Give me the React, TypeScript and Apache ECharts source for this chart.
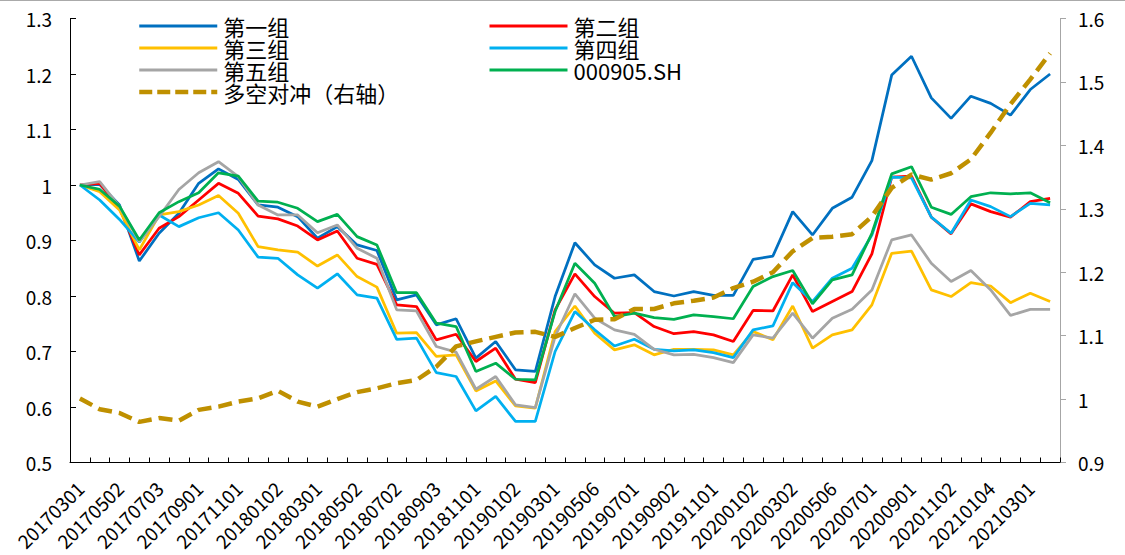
import React, { useEffect, useRef } from "react";
import * as echarts from "echarts";

const dates = [
  "20170301", "20170405", "20170502", "20170601", "20170703", "20170801", "20170901", "20171009", "20171101", "20171201",
  "20180102", "20180201", "20180301", "20180402", "20180502", "20180601", "20180702", "20180801", "20180903", "20181008",
  "20181101", "20181203", "20190102", "20190201", "20190301", "20190401", "20190506", "20190603", "20190701", "20190801",
  "20190902", "20191008", "20191101", "20191202", "20200102", "20200203", "20200302", "20200401", "20200506", "20200601",
  "20200701", "20200803", "20200901", "20201009", "20201102", "20201201", "20210104", "20210201", "20210301", "20210401",
];

const group1 = [
  1.0, 1.001, 0.964, 0.863, 0.913, 0.949, 1.003, 1.029, 1.01, 0.964,
  0.96, 0.943, 0.904, 0.925, 0.892, 0.882, 0.793, 0.802, 0.748, 0.759,
  0.688, 0.718, 0.667, 0.664, 0.799, 0.896, 0.856, 0.832, 0.838, 0.808,
  0.8, 0.808, 0.801, 0.801, 0.866, 0.872, 0.952, 0.91, 0.958, 0.978,
  1.044, 1.198, 1.232, 1.157, 1.12, 1.16, 1.147, 1.126, 1.172, 1.2,
];
const group2 = [
  1.0, 1.003, 0.958, 0.874, 0.922, 0.943, 0.973, 1.003, 0.985, 0.944,
  0.939, 0.926, 0.901, 0.917, 0.868, 0.857, 0.784, 0.781, 0.721, 0.731,
  0.682, 0.706, 0.65, 0.644, 0.775, 0.84, 0.799, 0.769, 0.77, 0.745,
  0.732, 0.736, 0.73, 0.718, 0.774, 0.773, 0.838, 0.772, 0.79, 0.808,
  0.876, 1.014, 1.016, 0.942, 0.912, 0.966, 0.952, 0.942, 0.97, 0.976,
];
const group3 = [
  1.0, 0.988, 0.955, 0.883, 0.946, 0.952, 0.964, 0.981, 0.949, 0.889,
  0.883, 0.879, 0.854, 0.874, 0.835, 0.816, 0.733, 0.734, 0.691, 0.694,
  0.629, 0.647, 0.602, 0.598, 0.736, 0.782, 0.733, 0.703, 0.712, 0.694,
  0.704, 0.704, 0.703, 0.694, 0.736, 0.721, 0.782, 0.706, 0.73, 0.739,
  0.784, 0.877, 0.881, 0.811, 0.799, 0.824, 0.818, 0.788, 0.805, 0.79,
];
const group4 = [
  1.0, 0.973, 0.938, 0.897, 0.946, 0.925, 0.941, 0.95, 0.919, 0.87,
  0.868, 0.838, 0.814, 0.84, 0.802, 0.796, 0.722, 0.724, 0.662, 0.655,
  0.593, 0.619, 0.574, 0.574, 0.7, 0.772, 0.739, 0.71, 0.722, 0.704,
  0.701, 0.703, 0.698, 0.689, 0.739, 0.746, 0.824, 0.79, 0.832, 0.85,
  0.91, 1.014, 1.013, 0.942, 0.913, 0.973, 0.961, 0.943, 0.967, 0.964,
];
const group5 = [
  1.0, 1.006, 0.961, 0.898, 0.943, 0.992, 1.022, 1.042, 1.015, 0.964,
  0.946, 0.946, 0.914, 0.928, 0.886, 0.868, 0.775, 0.773, 0.709, 0.699,
  0.632, 0.655, 0.604, 0.599, 0.727, 0.804, 0.76, 0.739, 0.731, 0.704,
  0.694, 0.695, 0.689, 0.68, 0.73, 0.724, 0.769, 0.724, 0.76, 0.776,
  0.811, 0.901, 0.91, 0.859, 0.826, 0.846, 0.811, 0.765, 0.776, 0.776,
];
const index905 = [
  1.0, 0.992, 0.962, 0.901, 0.95, 0.97, 0.986, 1.022, 1.016, 0.971,
  0.969, 0.958, 0.934, 0.947, 0.907, 0.892, 0.806, 0.806, 0.751, 0.745,
  0.664, 0.679, 0.65, 0.649, 0.772, 0.859, 0.823, 0.763, 0.769, 0.761,
  0.758, 0.766, 0.763, 0.759, 0.817, 0.835, 0.846, 0.786, 0.829, 0.838,
  0.913, 1.02, 1.033, 0.96, 0.947, 0.979, 0.986, 0.984, 0.986, 0.968,
];
const hedge = [
  1.001, 0.984, 0.978, 0.964, 0.97, 0.966, 0.983, 0.988, 0.996, 1.001,
  1.013, 0.996, 0.988, 1.0, 1.011, 1.017, 1.025, 1.03, 1.051, 1.083,
  1.091, 1.098, 1.105, 1.106, 1.098, 1.112, 1.125, 1.126, 1.142, 1.142,
  1.151, 1.155, 1.16, 1.175, 1.185, 1.2, 1.233, 1.254, 1.256, 1.26,
  1.288, 1.333, 1.354, 1.346, 1.356, 1.378, 1.42, 1.465, 1.504, 1.545,
];

const names = ["第一组", "第二组", "第三组", "第四组", "第五组", "000905.SH", "多空对冲（右轴）"];
const colors = ["#0070C0", "#FF0000", "#FFC000", "#00B0F0", "#A5A5A5", "#00B050", "#BF9000"];

const FONT = "'Noto Sans CJK SC', 'DejaVu Sans', sans-serif";

export default function App() {
  const ref = useRef<HTMLDivElement>(null);
  useEffect(() => {
    if (!ref.current) return;
    const chart = echarts.init(ref.current, undefined, { renderer: "svg" });
    const values = [group1, group2, group3, group4, group5, index905];
    const fmt = (v: number) => String(Math.round(v * 10) / 10);
    const legendItem = (i: number) =>
      i === 6
        ? { name: names[i], lineStyle: { width: 4.5, type: [13, 5] } }
        : { name: names[i], lineStyle: { width: 3 } };
    const legendCommon = {
      orient: "vertical" as const,
      itemWidth: 78,
      itemHeight: 14,
      itemGap: 0,
      padding: 0,
      itemStyle: { opacity: 0, color: "rgba(0,0,0,0)", borderWidth: 0 },
      textStyle: { fontSize: 22, lineHeight: 22, color: "#000", fontFamily: FONT, padding: [0, 0, 0, 1] },
    };
    chart.setOption({
      animation: false,
      textStyle: { fontFamily: FONT },
      graphic: [
        { type: "line", shape: { x1: 0, y1: 0.5, x2: 1125, y2: 0.5 }, style: { stroke: "#AAAAAA", lineWidth: 1 } },
      ],
      legend: [
        { ...legendCommon, left: 137, top: 15, data: [0, 2, 4, 6].map(legendItem) },
        { ...legendCommon, left: 488, top: 15, data: [1, 3, 5].map(legendItem) },
      ],
      grid: { left: 70, right: 65, top: 18.5, bottom: 92.5, containLabel: false },
      xAxis: {
        type: "category",
        data: dates,
        boundaryGap: true,
        axisLine: { lineStyle: { color: "#000", width: 1 } },
        axisTick: { show: true, inside: true, length: 5, interval: 0, lineStyle: { color: "#000" } },
        axisLabel: { interval: 1, rotate: 45, fontSize: 19, color: "#000", margin: 22, fontFamily: FONT },
        splitLine: { show: false },
      },
      yAxis: [
        {
          type: "value",
          min: 0.5,
          max: 1.3,
          interval: 0.1,
          position: "left",
          axisLine: { show: true, lineStyle: { color: "#000", width: 1 } },
          axisTick: { show: true, inside: true, length: 6, lineStyle: { color: "#000" } },
          axisLabel: { fontSize: 19, color: "#000", margin: 18, formatter: fmt, fontFamily: FONT },
          splitLine: { show: false },
        },
        {
          type: "value",
          min: 0.9,
          max: 1.6,
          interval: 0.1,
          position: "right",
          axisLine: { show: true, lineStyle: { color: "#A6A6A6", width: 1 } },
          axisTick: { show: true, length: 6, lineStyle: { color: "#A6A6A6" } },
          axisLabel: { fontSize: 19, color: "#000", margin: 18, formatter: fmt, fontFamily: FONT },
          splitLine: { show: false },
        },
      ],
      series: [
        ...values.map((d, i) => ({
          name: names[i],
          type: "line",
          data: d,
          yAxisIndex: 0,
          symbol: "none",
          itemStyle: { color: colors[i] },
          lineStyle: { color: colors[i], width: 2.75 },
        })),
        {
          name: names[6],
          type: "line",
          data: hedge,
          yAxisIndex: 1,
          symbol: "none",
          itemStyle: { color: colors[6] },
          lineStyle: { color: colors[6], width: 4.5, type: [14, 7] },
          z: 3,
        },
      ],
    });
    return () => chart.dispose();
  }, []);
  return (
    <div
      ref={ref}
      style={{ position: "absolute", left: 0, top: 0, width: 1125, height: 555, background: "#fff" }}
    />
  );
}
